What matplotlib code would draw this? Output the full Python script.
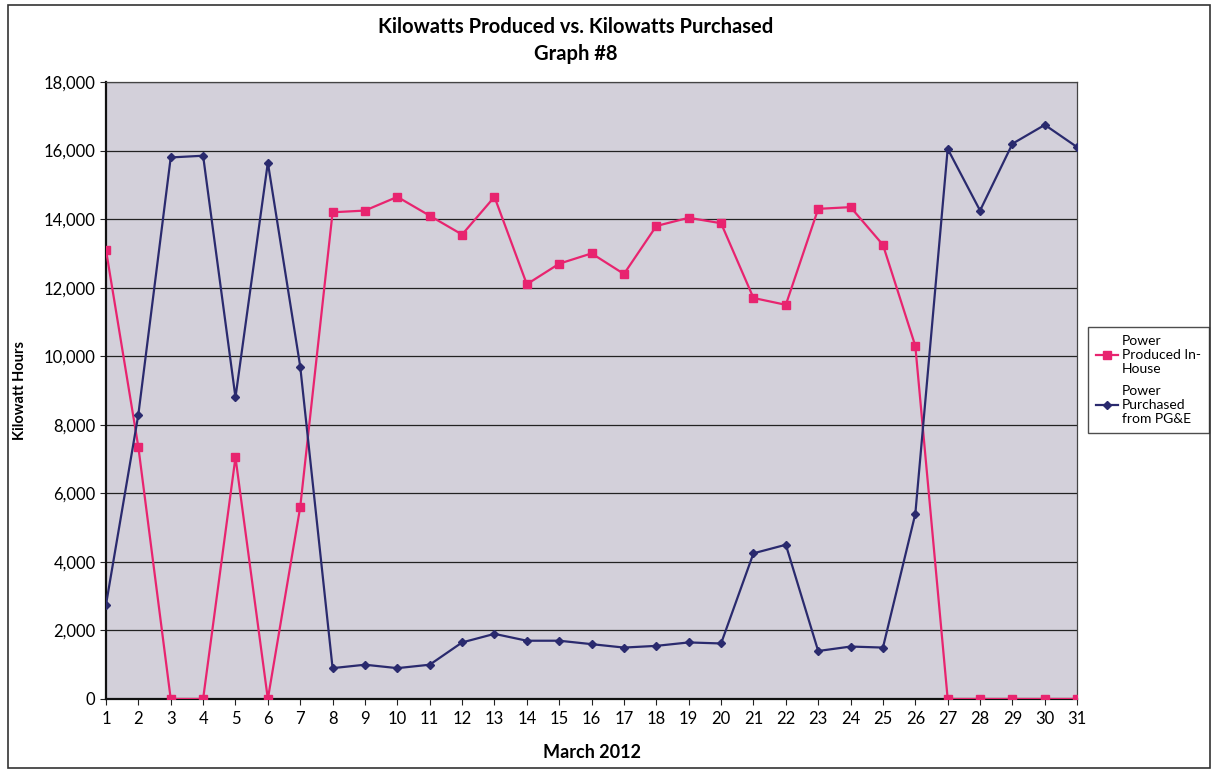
import matplotlib
matplotlib.use("Agg")
import matplotlib.pyplot as plt
from matplotlib.patches import Rectangle
from matplotlib.ticker import FuncFormatter, MultipleLocator

plt.rcParams['font.family'] = ['Lato', 'DejaVu Sans']

# March 2012 daily kWh
days = list(range(1, 32))
produced = [13100, 7350, 0, 0, 7050, 0, 5600, 14200, 14250, 14650,
            14100, 13550, 14650, 12100, 12700, 13000, 12400, 13800, 14040, 13880,
            11700, 11500, 14300, 14350, 13250, 10300, 0, 0, 0, 0, 0]
purchased = [2750, 8300, 15800, 15850, 8800, 15650, 9700, 900, 1000, 900,
             1000, 1650, 1900, 1700, 1700, 1600, 1500, 1550, 1650, 1620,
             4250, 4500, 1400, 1530, 1500, 5400, 16050, 14250, 16200, 16750, 16100]

pink = '#e8246f'
navy = '#2a2a6e'

fig = plt.figure(figsize=(12.14, 7.71), dpi=100)
ax = fig.add_axes([0.0873, 0.0934, 0.8, 0.8002])
ax.set_facecolor('#d3d0da')

ax.plot(days, produced, color=pink, lw=1.6, marker='s', ms=5.5,
        mfc=pink, mec=pink, label='Power\nProduced In-\nHouse', zorder=3)
ax.plot(days, purchased, color=navy, lw=1.6, marker='D', ms=4.5,
        mfc=navy, mec=navy, label='Power\nPurchased\nfrom PG&E', zorder=3)

ax.set_xlim(1, 31)
ax.set_ylim(0, 18000)
ax.set_xticks(days)
ax.yaxis.set_major_locator(MultipleLocator(2000))
ax.yaxis.set_major_formatter(FuncFormatter(lambda v, p: f'{int(v):,}'))
ax.grid(axis='y', color='#222222', lw=0.9)
ax.set_axisbelow(True)
ax.tick_params(axis='both', labelsize=12, color='#222222', length=4)
ax.tick_params(axis='x', pad=5)

for s in ['left', 'bottom']:
    ax.spines[s].set_color('#111111')
    ax.spines[s].set_linewidth(1.6)
for s in ['top', 'right']:
    ax.spines[s].set_color('#444444')
    ax.spines[s].set_linewidth(0.9)

ax.set_xlabel('March 2012', fontsize=13, fontweight='bold', labelpad=12)
ax.set_ylabel('Kilowatt Hours', fontsize=10.5, fontweight='bold', labelpad=12)
fig.text(0.474, 0.965, 'Kilowatts Produced vs. Kilowatts Purchased',
         ha='center', va='center', fontsize=14.5, fontweight='bold')
fig.text(0.474, 0.930, 'Graph #8', ha='center', va='center',
         fontsize=14.5, fontweight='bold')

leg = ax.legend(loc='center left', bbox_to_anchor=(1.011, 0.517),
                fontsize=10, frameon=True, fancybox=False, handlelength=1.6,
                borderpad=0.6, labelspacing=0.7, handletextpad=0.25,
                borderaxespad=0.0)
leg.get_frame().set_edgecolor('#222222')
leg.get_frame().set_linewidth(1.0)
for t in leg.get_texts():
    t.set_multialignment('left')

# outer chart border
fig.patches.append(Rectangle((0.007, 0.004), 0.99, 0.99, transform=fig.transFigure,
                             fill=False, edgecolor='#333333', lw=1.2))

fig.savefig('out.png', dpi=100)
